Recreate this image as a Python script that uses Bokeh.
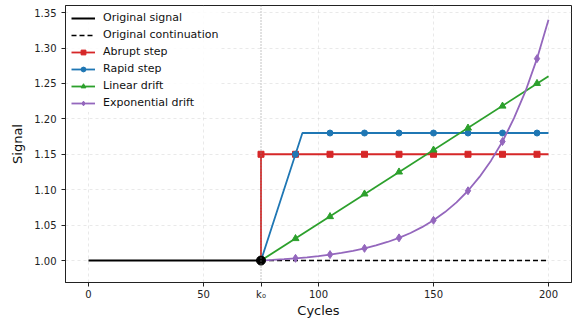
from bokeh.plotting import figure
from bokeh.models import Span, Range1d, FixedTicker, PrintfTickFormatter
from bokeh.embed import file_html
from bokeh.resources import INLINE

# ---- data ----
k0 = 75
orig_x = [0, 75]
orig_y = [1.0, 1.0]
cont_x = [75, 200]
cont_y = [1.0, 1.0]

abrupt_x = [75, 75, 200]
abrupt_y = [1.0, 1.15, 1.15]
abrupt_mx = [75, 90, 105, 120, 135, 150, 165, 180, 195]
abrupt_my = [1.15, 1.15, 1.15, 1.15, 1.15, 1.15, 1.15, 1.15, 1.15]

rapid_x = [75, 93, 200]
rapid_y = [1.0, 1.18, 1.18]
rapid_mx = [90, 105, 120, 135, 150, 165, 180, 195]
rapid_my = [1.15, 1.18, 1.18, 1.18, 1.18, 1.18, 1.18, 1.18]

linear_x = [75, 200]
linear_y = [1.0, 1.26]
linear_mx = [90, 105, 120, 135, 150, 165, 180, 195]
linear_my = [1.031, 1.062, 1.094, 1.125, 1.156, 1.187, 1.218, 1.250]

exp_x = [75, 80, 85, 90, 95, 100, 105, 110, 115, 120, 125, 130, 135, 140, 145,
         150, 155, 160, 165, 170, 175, 180, 185, 190, 195, 200]
exp_y = [1.0, 1.0009, 1.0019, 1.0031, 1.0046, 1.0063, 1.0084, 1.0108, 1.0137,
         1.0172, 1.0213, 1.0262, 1.0320, 1.0389, 1.0471, 1.0568, 1.0684, 1.0821,
         1.0985, 1.118, 1.141, 1.168, 1.201, 1.239, 1.285, 1.340]
exp_mx = [90, 105, 120, 135, 150, 165, 180, 195]
exp_my = [1.0031, 1.0084, 1.0172, 1.0320, 1.0568, 1.0985, 1.168, 1.285]

x_ticks = [0, 50, 75, 100, 150, 200]
x_tick_labels = {0: "0", 50: "50", 75: "k₀", 100: "100", 150: "150", 200: "200"}
y_ticks = [1.00, 1.05, 1.10, 1.15, 1.20, 1.25, 1.30, 1.35]
y_bottom = 0.969
y_top = 1.360

RED, BLUE, GREEN, PURPLE = "#d62728", "#1f77b4", "#2ca02c", "#9467bd"
FONT = "DejaVu Sans"

p = figure(width=580, height=320, output_backend="svg", toolbar_location=None,
           x_range=Range1d(-10, 210), y_range=Range1d(y_bottom, y_top),
           min_border_left=65, min_border_right=9, min_border_top=5,
           min_border_bottom=38)
p.outline_line_color = "#222222"
p.outline_line_width = 1
p.background_fill_color = "white"

for ax in (p.xaxis, p.yaxis):
    ax.axis_line_color = "#222222"
    ax.major_tick_line_color = "#222222"
    ax.minor_tick_line_color = None
    ax.major_tick_out = 4
    ax.major_tick_in = 0
    ax.major_label_text_font = FONT
    ax.major_label_text_font_size = "10px"
    ax.major_label_text_color = "#222222"
    ax.axis_label_text_font = FONT
    ax.axis_label_text_font_size = "13px"
    ax.axis_label_text_font_style = "normal"
    ax.axis_label_text_color = "#111111"

p.xaxis.ticker = FixedTicker(ticks=x_ticks)
p.xaxis.major_label_overrides = x_tick_labels
p.yaxis.ticker = FixedTicker(ticks=y_ticks)
p.yaxis.formatter = PrintfTickFormatter(format="%.2f")
p.xaxis.axis_label = "Cycles"
p.yaxis.axis_label = "Signal"
p.xaxis.axis_label_standoff = 0
p.yaxis.axis_label_standoff = 6
p.xaxis.major_label_standoff = 2

p.grid.grid_line_color = "#cccccc"
p.grid.grid_line_dash = "3 3"
p.grid.grid_line_alpha = 0.55
p.grid.grid_line_width = 0.8
p.xgrid.ticker = FixedTicker(ticks=[0, 50, 100, 150, 200])

p.add_layout(Span(location=k0, dimension="height", line_color="#888888",
                  line_dash="1 2", line_width=1))

LW = 1.8
p.line(orig_x, orig_y, color="black", line_width=2, legend_label="Original signal")
p.line(cont_x, cont_y, color="black", line_width=1.6, line_dash="5 3",
       legend_label="Original continuation")

p.line(abrupt_x, abrupt_y, color=RED, line_width=LW, legend_label="Abrupt step")
p.scatter(abrupt_mx, abrupt_my, marker="square", size=6, color=RED,
          legend_label="Abrupt step")

p.line(rapid_x, rapid_y, color=BLUE, line_width=LW, legend_label="Rapid step")
p.scatter(rapid_mx, rapid_my, marker="circle", size=6, color=BLUE,
          legend_label="Rapid step")

p.line(linear_x, linear_y, color=GREEN, line_width=LW, legend_label="Linear drift")
p.scatter(linear_mx, linear_my, marker="triangle", size=7, color=GREEN,
          legend_label="Linear drift")

p.line(exp_x, exp_y, color=PURPLE, line_width=LW, legend_label="Exponential drift")
p.scatter(exp_mx, exp_my, marker="diamond", size=8, color=PURPLE,
          legend_label="Exponential drift")

p.scatter([k0], [1.0], marker="circle", size=9, color="black")

lg = p.legend[0]
lg.location = "top_left"
lg.label_text_font = FONT
lg.label_text_font_size = "11px"
lg.label_text_color = "#111111"
lg.glyph_width = 24
lg.glyph_height = 12
lg.label_height = 12
lg.spacing = 4
lg.padding = 3
lg.margin = 3
lg.label_standoff = 8
lg.border_line_alpha = 0
lg.background_fill_alpha = 0.85

open("out.html", "w").write(file_html(p, INLINE))
